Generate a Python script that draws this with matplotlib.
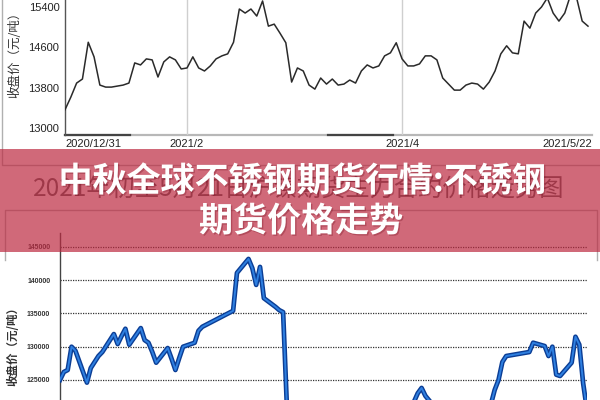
import matplotlib
matplotlib.use("Agg")
import matplotlib.pyplot as plt
import numpy as np
import pandas as pd
from matplotlib import patheffects as pe
from matplotlib.patches import Rectangle

# ---------------- data ----------------
# Top chart: stainless steel futures close (yuan/ton), one value per trading day
ss_close = [13360, 13610, 13890, 13970, 14700, 14410, 13850, 13810, 13810, 13830,
            13850, 13890, 14290, 14250, 14370, 14350, 14010, 14310, 14410, 14350,
            14170, 14190, 14410, 14190, 14130, 14230, 14370, 14430, 14470, 14700,
            15360, 15280, 15360, 15220, 15520, 15020, 15060, 14880, 14690, 13910,
            14190, 14130, 13850, 13770, 13990, 13870, 13970, 13850, 13870, 13950,
            13890, 14130, 14250, 14190, 14230, 14430, 14490, 14690, 14370, 14230,
            14230, 14270, 14430, 14430, 14350, 13990, 13870, 13750, 13750, 13850,
            13890, 13870, 13770, 13910, 14130, 14470, 14630, 14490, 14470, 15120,
            14980, 15280, 15400, 15580, 15280, 15120, 15280, 15640, 15600, 15120,
            15020]
top_tick_idx = [0, 21, 58]
top_tick_labels = ["2020/12/31", "2021/2", "2021/4", "2021/5/22"]
top_yticks = [13000, 13800, 14600, 15400]

# Bottom chart: nickel main contract close (yuan/ton)
ni_dates = ["2021-01-04", "2021-01-05", "2021-01-06", "2021-01-07", "2021-01-08",
            "2021-01-11", "2021-01-12", "2021-01-13", "2021-01-14", "2021-01-15",
            "2021-01-18", "2021-01-19", "2021-01-20", "2021-01-21", "2021-01-22",
            "2021-01-25", "2021-01-26", "2021-01-27", "2021-01-28", "2021-01-29",
            "2021-02-01", "2021-02-02", "2021-02-03", "2021-02-04", "2021-02-05",
            "2021-02-08", "2021-02-09", "2021-02-10", "2021-02-18", "2021-02-19",
            "2021-02-22", "2021-02-23", "2021-02-24", "2021-02-25", "2021-02-26",
            "2021-03-01", "2021-03-02", "2021-03-03", "2021-03-04", "2021-03-05",
            "2021-03-08", "2021-03-09", "2021-03-10", "2021-03-11", "2021-03-12",
            "2021-03-15", "2021-03-16", "2021-03-17", "2021-03-18", "2021-03-19",
            "2021-03-22", "2021-03-23", "2021-03-24", "2021-03-25", "2021-03-26",
            "2021-03-29", "2021-03-30", "2021-03-31", "2021-04-01", "2021-04-02",
            "2021-04-06", "2021-04-07", "2021-04-08", "2021-04-09", "2021-04-12",
            "2021-04-13", "2021-04-14", "2021-04-15", "2021-04-16", "2021-04-19",
            "2021-04-20", "2021-04-21", "2021-04-22", "2021-04-23", "2021-04-26",
            "2021-04-27", "2021-04-28", "2021-04-29", "2021-04-30", "2021-05-06",
            "2021-05-07", "2021-05-10", "2021-05-11", "2021-05-12", "2021-05-13",
            "2021-05-14", "2021-05-17", "2021-05-18", "2021-05-19", "2021-05-20",
            "2021-05-21"]
ni_close = [125000, 126200, 126500, 130000, 129400,
            124600, 126800, 127700, 128600, 129200,
            131900, 130400, 131600, 132700, 130300,
            132800, 131000, 130600, 129200, 127600,
            129800, 128200, 126500, 128300, 130000,
            130600, 132400, 133000, 135400, 141100,
            143200, 141800, 139300, 142000, 137300,
            136000, 135500, 135200, 120800, 119800,
            117800, 116900, 118600, 120300, 119700,
            118800, 119900, 120600, 119400, 118200,
            119000, 118500, 117600, 118400, 119300,
            120100, 119700, 120200, 120900, 120400,
            121700, 123000, 123800, 122600, 120500,
            119800, 120300, 120900, 120100, 119600,
            120400, 121000, 120500, 120800, 121300,
            123500, 125000, 127700, 128600, 129200,
            130600, 130100, 128600, 130000, 125800,
            125600, 127600, 131500, 130300, 124500,
            120500]
ni_yticks = [125000, 130000, 135000, 140000, 145000]

banner_line1 = "中秋全球不锈钢期货行情:不锈钢"
banner_line2 = "期货价格走势"
bottom_title = "2021年初至5月21日沪镍期货主力合约价格走势图"
ylabel_text = "收盘价（元/吨）"

CJK = ["Noto Sans CJK SC", "DejaVu Sans"]
LAT = ["Liberation Sans", "DejaVu Sans"]

# ---------------- figure ----------------
W, H = 600, 400
fig = plt.figure(figsize=(6, 4), dpi=100)
fig.patch.set_facecolor("white")

# background layer (pixel coordinates)
bg = fig.add_axes([0, 0, 1, 1], zorder=0)
bg.set_xlim(0, W)
bg.set_ylim(H, 0)
bg.axis("off")
bg.plot([2, 2, 600], [0, 165, 165], color="#b0b0b0", lw=1.0)
bg.plot([5, 5, 597, 597], [260, 210, 210, 260], color="#b0b0b0", lw=1.0)
bg.text(299, 190, bottom_title, ha="center", va="center", fontsize=17.5,
        color="#5a5a5a", family=CJK)
bg.text(15, 52, ylabel_text, rotation=90, ha="center", va="center",
        fontsize=9, color="#333333", family=CJK)
bg.text(13, 344, ylabel_text, rotation=90, ha="center", va="center",
        fontsize=8.3, color="#333333", family=CJK, weight="bold")
# range-selector look of the top chart's bottom axis
bg.plot([65, 592], [135, 135], color="#b8b8b8", lw=1.6, zorder=1)
bg.plot([65, 130], [135, 135], color="#444444", lw=1.6, zorder=2)
bg.plot([328, 393], [135, 135], color="#444444", lw=1.6, zorder=2)

# ---------------- top chart ----------------
ax1 = fig.add_axes([65 / W, 1 - 135 / H, 527 / W, 135 / H], zorder=1)
ax1.patch.set_alpha(0)
x1 = np.arange(len(ss_close))
xmax1 = (len(ss_close) - 1) * 527 / 523
ax1.plot(x1, ss_close, color="#2a2a2a", lw=1.1, zorder=3)
for t in top_tick_idx[1:]:
    ax1.axvline(t, color="#cfcfcf", lw=1.0, zorder=1)
ax1.set_xlim(0, xmax1)
ax1.set_ylim(12859, 15539)
ax1.set_yticks(top_yticks)
ax1.set_yticklabels([str(v) for v in top_yticks], family=LAT, fontsize=8,
                    color="#222222")
ax1.set_xticks(top_tick_idx + [xmax1])
xl = ax1.set_xticklabels(top_tick_labels, family=LAT, fontsize=8,
                         color="#222222")
xl[0].set_ha("left")
xl[-1].set_ha("right")
ax1.tick_params(axis="both", length=0)
ax1.tick_params(axis="y", pad=4)
ax1.tick_params(axis="x", pad=3)
for s in ["top", "right", "bottom"]:
    ax1.spines[s].set_visible(False)
ax1.spines["left"].set_color("#555555")
ax1.spines["left"].set_linewidth(1.0)

# ---------------- bottom chart ----------------
ax2 = fig.add_axes([60 / W, 1 - 420 / H, 527 / W, (420 - 233) / H], zorder=1)
ax2.patch.set_alpha(0)
d2 = pd.to_datetime(ni_dates)
ax2.plot(d2, ni_close, color="#2e7fe0", lw=1.4, zorder=3,
         path_effects=[pe.Stroke(linewidth=3.4, foreground="#0b3d94"),
                       pe.Normal()])
ax2.set_xlim(d2[0], d2[-1])
ax2.set_ylim(118980, 147100)
ax2.set_yticks(ni_yticks)
ax2.set_yticklabels([str(v) for v in ni_yticks], family=LAT, fontsize=5,
                    color="#333333", weight="bold")
ax2.yaxis.grid(True, color="#333333", lw=0.9, linestyle=(0, (1, 1)))
ax2.set_xticks([])
ax2.tick_params(axis="y", length=0, pad=7)
for s in ["top", "right", "bottom"]:
    ax2.spines[s].set_visible(False)
ax2.spines["left"].set_color("#444444")
ax2.spines["left"].set_linewidth(1.0)

# ---------------- overlay banner ----------------
ov = fig.add_axes([0, 0, 1, 1], zorder=10)
ov.set_xlim(0, W)
ov.set_ylim(H, 0)
ov.axis("off")
ov.patch.set_alpha(0)
ov.add_patch(Rectangle((0, 149), W, 103, facecolor="#bc2a41", alpha=0.7,
                       edgecolor="none"))
shadow = [pe.withSimplePatchShadow(offset=(1, -1), shadow_rgbFace="#7a1525",
                                   alpha=0.35)]
ov.text(302, 181, banner_line1, ha="center", va="center", fontsize=24.5,
        color="white", weight="bold", family=CJK, path_effects=shadow)
ov.text(301, 221, banner_line2, ha="center", va="center", fontsize=24.5,
        color="white", weight="bold", family=CJK, path_effects=shadow)

fig.savefig("out.png", dpi=100)
